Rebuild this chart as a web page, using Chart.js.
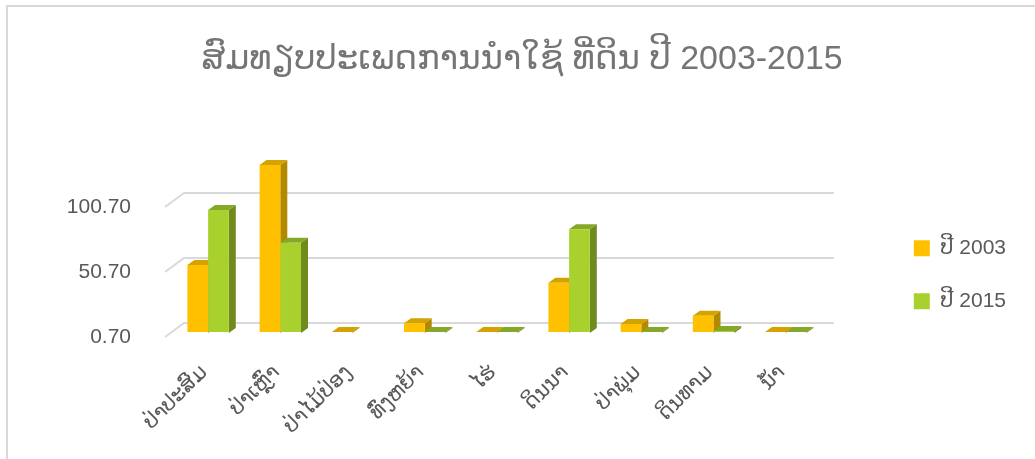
<!DOCTYPE html>
<html>
<head>
<meta charset="utf-8">
<script src="https://cdn.jsdelivr.net/npm/chart.js@4"></script>
<style>
  html, body { margin: 0; padding: 0; background: #fff; }
  #wrap { width: 1035px; height: 459px; }
</style>
</head>
<body>
<div id="wrap"><canvas id="chart-tidin"></canvas></div>
<script>
var categories = ["ປ່າປະສົມ", "ປ່າເຫຼົ່າ", "ປ່າໄມ້ປ່ອງ", "ທົ່ງຫຍ້າ", "ໄຮ່", "ດິນນາ", "ປ່າພຸ່ມ", "ດິນທາມ", "ນ້ຳ"];
var seriesNames = ["ປີ 2003", "ປີ 2015"];
var values2003 = [52.2, 129.2, 0.7, 7.4, 0.7, 38.6, 6.9, 13.2, 0.7];
var values2015 = [94.5, 69.4, null, 0.7, 0.7, 79.7, 0.7, 1.4, 0.7];
var yTicks = [0.7, 50.7, 100.7];

var frontColors = ["#FFC000", "#A8D12E"];
var topColors = ["#D4A300", "#86A828"];
var sideColors = ["#B38900", "#6F8B1D"];
var LAO_FONT = "'Liberation Sans', 'DejaVu Sans', sans-serif";

// bar depth and wall offsets, in pixels
var DX = 7, DY = 5;

var depth3d = {
  id: "depth3d",
  beforeDraw: function (chart) {
    var ctx = chart.ctx;
    ctx.save();
    ctx.strokeStyle = "#d9d9d9";
    ctx.lineWidth = 2;
    ctx.beginPath();
    ctx.moveTo(7, 459);
    ctx.lineTo(7, 6);
    ctx.lineTo(1035, 6);
    ctx.stroke();
    ctx.restore();
  },
  beforeDatasetsDraw: function (chart) {
    var ctx = chart.ctx;
    var y = chart.scales.y;
    var area = chart.chartArea;
    ctx.save();
    ctx.strokeStyle = "#d9d9d9";
    ctx.lineWidth = 2;
    yTicks.forEach(function (v) {
      var py = y.getPixelForValue(v);
      ctx.beginPath();
      ctx.moveTo(area.left - 7, py + 5);
      ctx.lineTo(area.left + 12, py - 9);
      ctx.lineTo(area.right + 12, py - 9);
      ctx.stroke();
    });
    chart.data.datasets.forEach(function (ds, i) {
      var meta = chart.getDatasetMeta(i);
      meta.data.forEach(function (bar, j) {
        if (ds.data[j] === null) return;
        var p = bar.getProps(["x", "y", "base", "width"], true);
        var l = p.x - p.width / 2, r = p.x + p.width / 2;
        var top = Math.min(p.y, p.base);
        ctx.fillStyle = sideColors[i];
        ctx.beginPath();
        ctx.moveTo(r, top);
        ctx.lineTo(r + DX, top - DY);
        ctx.lineTo(r + DX, p.base - DY);
        ctx.lineTo(r, p.base);
        ctx.closePath();
        ctx.fill();
        ctx.fillStyle = topColors[i];
        ctx.beginPath();
        ctx.moveTo(l, top);
        ctx.lineTo(r, top);
        ctx.lineTo(r + DX, top - DY);
        ctx.lineTo(l + DX, top - DY);
        ctx.closePath();
        ctx.fill();
      });
    });
    ctx.restore();
  }
};

new Chart("chart-tidin", {
  type: "bar",
  data: {
    labels: categories,
    datasets: [{
      label: seriesNames[0],
      data: values2003,
      backgroundColor: frontColors[0],
      borderWidth: 0
    }, {
      label: seriesNames[1],
      data: values2015,
      backgroundColor: frontColors[1],
      borderWidth: 0
    }]
  },
  options: {
    responsive: true,
    maintainAspectRatio: false,
    animation: false,
    layout: { padding: { right: 19 } },
    datasets: {
      bar: { categoryPercentage: 0.573, barPercentage: 1 }
    },
    plugins: {
      title: {
        display: true,
        // leading spaces push the centred title a little to the right
        text: "\u00a0\u00a0\u00a0ສົມທຽບປະເພດການນຳໃຊ້ ທີ່ດິນ ປີ 2003-2015",
        color: "#757575",
        font: { family: LAO_FONT, size: 34, weight: "normal", lineHeight: 1.2 },
        padding: { top: 39, bottom: 9 }
      },
      legend: {
        position: "right",
        align: "center",
        title: { display: true, text: "", font: { size: 12 }, padding: { top: 76, bottom: 0 } },
        labels: {
          boxWidth: 16,
          boxHeight: 16,
          padding: 32,
          color: "#595959",
          font: { family: LAO_FONT, size: 21 }
        }
      },
      tooltip: { enabled: false }
    },
    scales: {
      x: {
        grid: { display: false, drawTicks: false },
        border: { display: false },
        ticks: {
          autoSkip: false,
          maxRotation: 45,
          minRotation: 45,
          padding: 28,
          labelOffset: -4,
          color: "#595959",
          font: { family: LAO_FONT, size: 21 }
        },
        afterFit: function (s) { s.height = 127; }
      },
      y: {
        min: 0.7,
        max: 187.7,
        grid: { display: false, drawTicks: false },
        border: { display: false },
        afterBuildTicks: function (s) {
          s.ticks = yTicks.map(function (v) { return { value: v }; });
        },
        afterFit: function (s) { s.width = 172; },
        ticks: {
          padding: 41,
          labelOffset: 5,
          color: "#595959",
          font: { family: LAO_FONT, size: 21 },
          callback: function (v) { return Number(v).toFixed(2); }
        }
      },
      spacer: {
        position: "right",
        display: true,
        grid: { display: false, drawTicks: false },
        border: { display: false },
        ticks: { display: false },
        afterFit: function (s) { s.width = 60; }
      }
    }
  },
  plugins: [depth3d]
});
</script>
</body>
</html>
